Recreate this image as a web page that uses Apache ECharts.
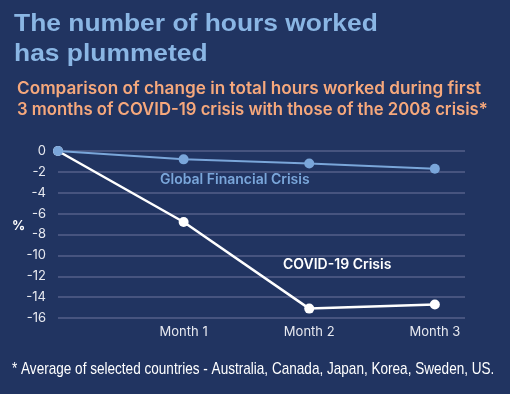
<!DOCTYPE html>
<html><head><meta charset="utf-8">
<script src="https://cdn.jsdelivr.net/npm/echarts@6/dist/echarts.min.js"></script>
<style>html,body{margin:0;padding:0;background:#213461;}#c{width:510px;height:394px;}</style>
</head><body><div id="c"></div>
<script>
const xPositions = [0, 1, 2, 3];
const xTickLabels = ['', 'Month 1', 'Month 2', 'Month 3'];
const gfcValues = [0, -0.8, -1.2, -1.7];
const covidValues = [0, -6.8, -15.1, -14.7];
const yTicks = [0, -2, -4, -6, -8, -10, -12, -14, -16];

const chart = echarts.init(document.getElementById('c'), null, {renderer: 'canvas'});
const pair = (vals) => vals.map((v, i) => [xPositions[i], v]);
const font = 'Inter, "Noto Sans", sans-serif';
chart.setOption({
  backgroundColor: '#213461',
  animation: false,
  grid: {left: 58, right: 45, top: 151, bottom: 76},
  xAxis: {
    type: 'value', min: 0, max: 3.24, interval: 1,
    axisLine: {show: false}, axisTick: {show: false}, splitLine: {show: false},
    axisLabel: {color: '#e6e8ef', fontFamily: font, fontSize: 13, margin: 8,
      formatter: (v) => { const i = xPositions.indexOf(v); return i >= 0 ? xTickLabels[i] : ''; }}
  },
  yAxis: {
    type: 'value', min: yTicks[yTicks.length - 1], max: yTicks[0], interval: 2,
    axisLine: {show: false}, axisTick: {show: false},
    splitLine: {lineStyle: {color: '#545f8a', width: 1.5}},
    axisLabel: {color: '#e6e8ef', fontFamily: font, fontSize: 13, margin: 12}
  },
  graphic: [
    {type: 'text', x: 14, y: 9, scaleX: 1.10,
     style: {text: 'The number of hours worked\nhas plummeted', fill: '#8ab6e4',
             font: 'bold 24px "Liberation Sans", Arial, sans-serif', lineHeight: 30}},
    {type: 'text', x: 17, y: 78, scaleX: 1.011,
     style: {text: 'Comparison of change in total hours worked during first',
             fill: '#f6a87c', font: '600 17px ' + font, lineHeight: 21}},
    {type: 'text', x: 17, y: 99, scaleX: 0.982,
     style: {text: '3 months of COVID-19 crisis with those of the 2008 crisis*',
             fill: '#f6a87c', font: '600 17px ' + font, lineHeight: 21}},
    {type: 'text', x: 12, y: 361, scaleX: 0.798,
     style: {text: '* Average of selected countries - Australia, Canada, Japan, Korea, Sweden, US.',
             fill: '#ffffff', font: '17px "Liberation Sans", Arial, sans-serif'}},
    {type: 'text', left: 12, top: 220, style: {text: '%', fill: '#ffffff', font: 'bold 13px ' + font}},
    {type: 'text', left: 160, top: 173, style: {text: 'Global Financial Crisis', fill: '#7aa6da', font: '600 14px ' + font}},
    {type: 'text', left: 283, top: 258, style: {text: 'COVID-19 Crisis', fill: '#ffffff', font: '600 14px ' + font}}
  ],
  series: [
    {type: 'line', data: pair(covidValues), symbol: 'circle', symbolSize: 10,
     lineStyle: {color: '#ffffff', width: 2.5}, itemStyle: {color: '#ffffff'}, z: 2},
    {type: 'line', data: pair(gfcValues), symbol: 'circle', symbolSize: 10,
     lineStyle: {color: '#7aa6da', width: 2}, itemStyle: {color: '#7aa6da'}, z: 3}
  ]
});
</script></body></html>
